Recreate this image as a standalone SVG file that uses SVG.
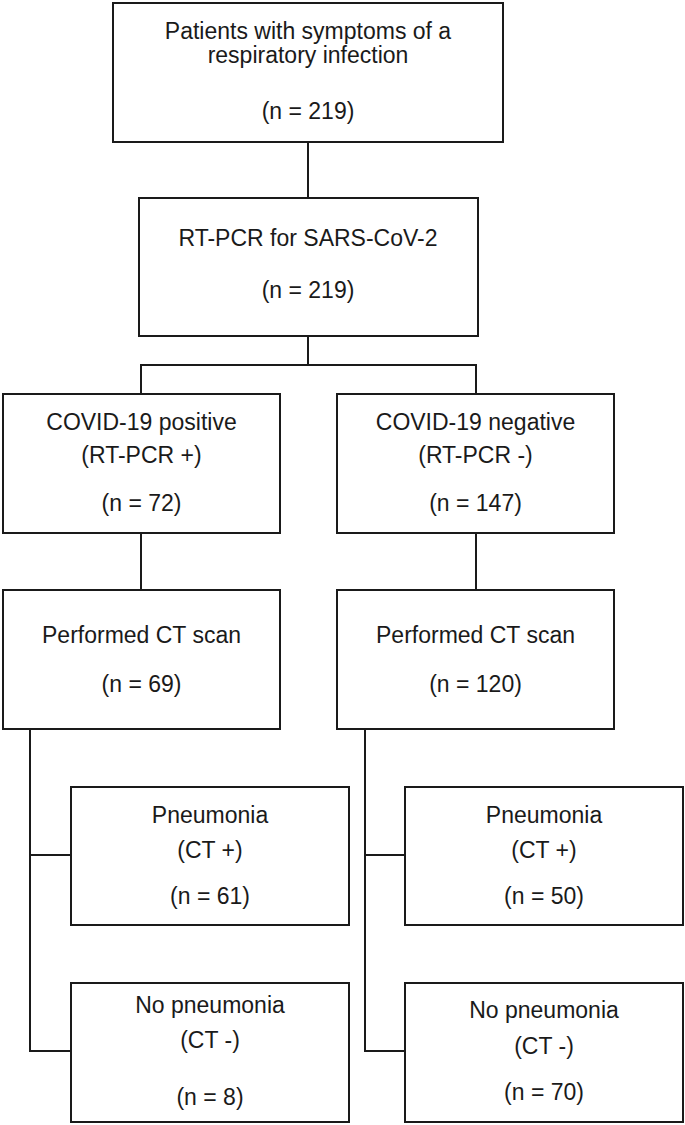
<svg xmlns="http://www.w3.org/2000/svg" width="685" height="1125" viewBox="0 0 685 1125">
<style>
.b{fill:#fff;stroke:#1a1a1a;stroke-width:2}
.c{fill:none;stroke:#1a1a1a;stroke-width:2}
text{font-family:"Liberation Sans",Arial,sans-serif;font-size:23px;fill:#1a1a1a;text-anchor:middle}
</style>
<rect width="685" height="1125" fill="#fff"/>
<g id="connectors">
<path class="c" d="M308 142V198"/>
<path class="c" d="M308 336V365M141 394V365H476V394"/>
<path class="c" d="M141 533V590M476 533V590"/>
<path class="c" d="M71 855H30M30 729V1051H71"/>
<path class="c" d="M405 855H365M365 729V1051H405"/>
</g>
<g id="n1"><rect class="b" x="113" y="3" width="390" height="139"/>
<text x="308" y="39">Patients with symptoms of a</text><text x="308" y="63">respiratory infection</text><text x="308" y="119">(n = 219)</text></g>
<g id="n2"><rect class="b" x="139" y="198" width="339" height="138"/>
<text x="308" y="246">RT-PCR for SARS-CoV-2</text><text x="308" y="298">(n = 219)</text></g>
<g id="n3"><rect class="b" x="3" y="394" width="277" height="139"/>
<text x="141.5" y="430">COVID-19 positive</text><text x="141.5" y="463">(RT-PCR +)</text><text x="141.5" y="511">(n = 72)</text></g>
<g id="n4"><rect class="b" x="337" y="394" width="277" height="139"/>
<text x="475.5" y="430">COVID-19 negative</text><text x="475.5" y="463">(RT-PCR -)</text><text x="475.5" y="511">(n = 147)</text></g>
<g id="n5"><rect class="b" x="3" y="590" width="277" height="139"/>
<text x="141.5" y="643">Performed CT scan</text><text x="141.5" y="692">(n = 69)</text></g>
<g id="n6"><rect class="b" x="337" y="590" width="277" height="139"/>
<text x="475.5" y="643">Performed CT scan</text><text x="475.5" y="692">(n = 120)</text></g>
<g id="n7"><rect class="b" x="71" y="787" width="278" height="138"/>
<text x="210" y="823">Pneumonia</text><text x="210" y="858">(CT +)</text><text x="210" y="904">(n = 61)</text></g>
<g id="n8"><rect class="b" x="405" y="787" width="278" height="138"/>
<text x="544" y="823">Pneumonia</text><text x="544" y="858">(CT +)</text><text x="544" y="904">(n = 50)</text></g>
<g id="n9"><rect class="b" x="71" y="983" width="278" height="139"/>
<text x="210" y="1013">No pneumonia</text><text x="210" y="1048">(CT -)</text><text x="210" y="1105">(n = 8)</text></g>
<g id="n10"><rect class="b" x="405" y="983" width="278" height="139"/>
<text x="544" y="1018">No pneumonia</text><text x="544" y="1054">(CT -)</text><text x="544" y="1100">(n = 70)</text></g>
</svg>
